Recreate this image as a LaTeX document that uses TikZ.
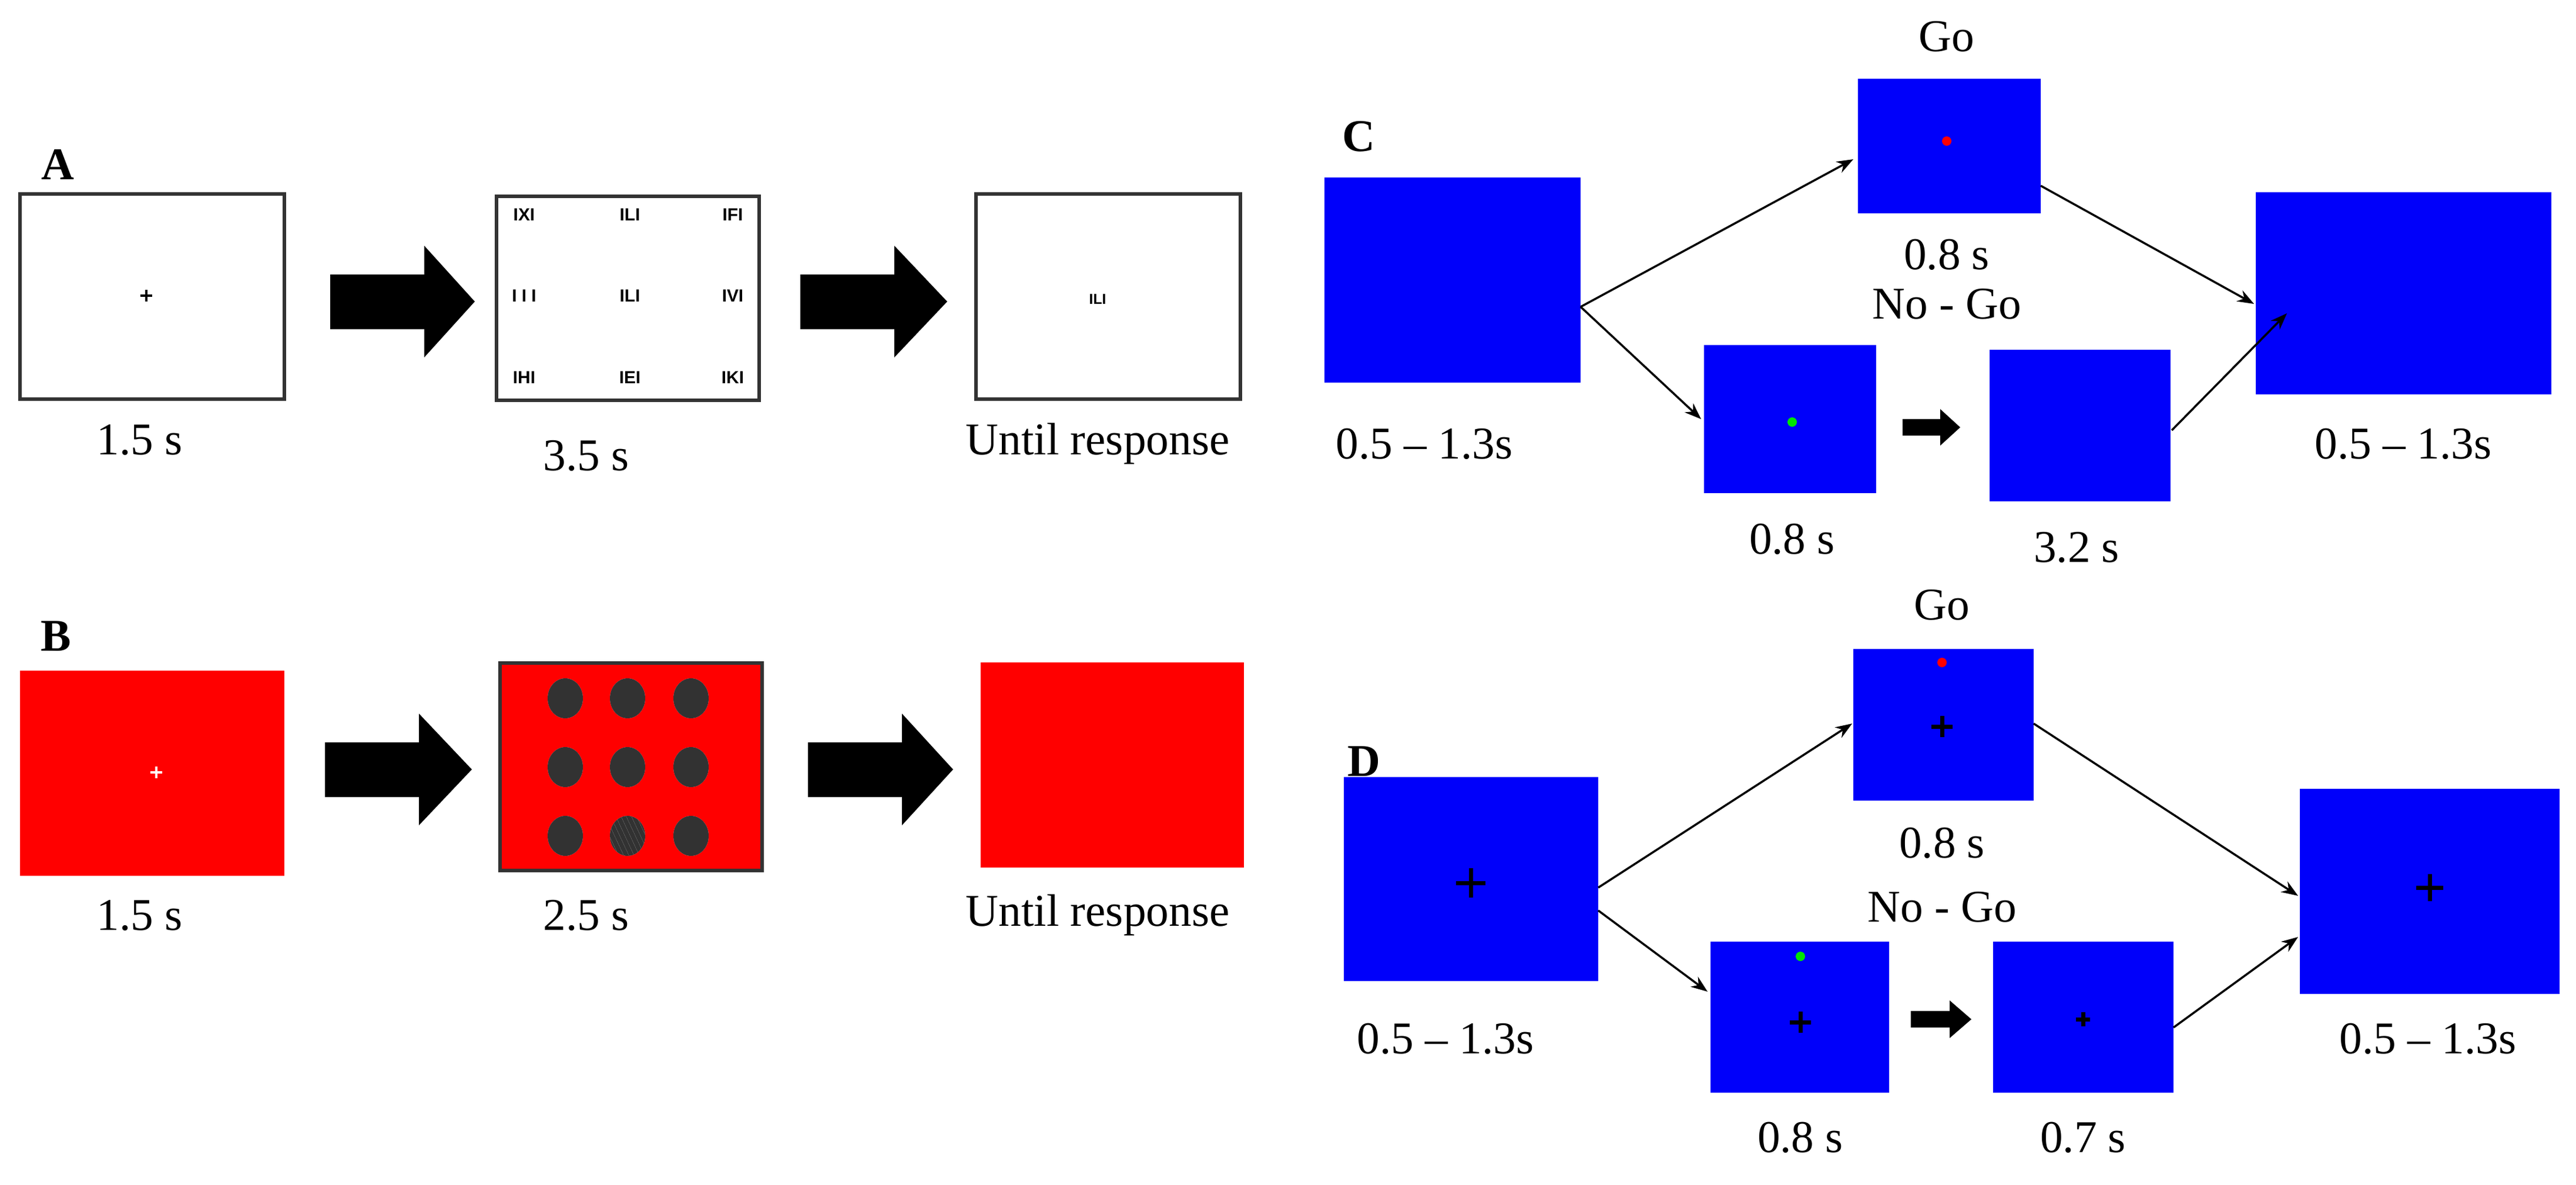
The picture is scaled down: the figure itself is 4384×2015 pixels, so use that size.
\documentclass[tikz,border=0pt]{standalone}
\usepackage{fontspec}
\setmainfont{Liberation Serif}
\newfontfamily\sansf{Liberation Sans}
\usetikzlibrary{arrows.meta}
\definecolor{scrblue}{RGB}{0,0,250}
\definecolor{scrred}{RGB}{255,0,0}
\definecolor{stripeD}{RGB}{50,50,50}
\definecolor{stripeL}{RGB}{200,200,200}
\begin{document}
\begin{tikzpicture}[x=0.1mm,y=-0.1mm,
  lbl/.style={font=\fontsize{22}{24}\selectfont},
  pan/.style={font=\bfseries\fontsize{22}{24}\selectfont},
  wbox/.style={draw=black!80,line width=1.6pt,fill=white},
  bbox/.style={fill=scrblue},
  rbox/.style={fill=scrred},
  letr/.style={font=\sansf\bfseries\fontsize{8.5}{9}\selectfont},
  conn/.style={-{Stealth[length=8pt,width=6pt]},line width=1pt},
  bigarrow/.style={fill=black},
  crs/.style={line width=2pt}]
\useasboundingbox (0,0) rectangle (4384,2015);
% ---------- A ----------
\node[pan] (lA) at (98,280) {A};
\draw[wbox] (34,330) rectangle (484,679);
\draw[line width=1.2pt] (239,503)--(259,503) (249,493)--(249,513);
\draw[wbox] (845,334) rectangle (1292,681);
\foreach \t/\x/\y in {IXI/892/365,ILI/1072/365,IFI/1247/365,{I I I}/892/503,ILI/1072/503,IVI/1247/503,IHI/892/642,IEI/1072/642,IKI/1247/642}
  \node[letr] at (\x,\y) {\t};
\draw[wbox] (1661,330) rectangle (2111,679);
\node[letr,font=\sansf\bfseries\fontsize{7}{8}\selectfont] at (1868,509) {ILI};
\node[lbl] (tA1) at (238,749) {1.5 s};
\node[lbl] (tA2) at (998,775) {3.5 s};
\node[lbl] (tA3) at (1868,755) {Until response};
\fill[bigarrow] (562,467)--(722,467)--(722,418)--(808,513)--(722,608)--(722,560)--(562,560)--cycle;
\fill[bigarrow] (1362,467)--(1522,467)--(1522,418)--(1612,513)--(1522,608)--(1522,560)--(1362,560)--cycle;
% ---------- B ----------
\node[pan] (lB) at (95,1082) {B};
\fill[rbox] (34,1141) rectangle (484,1490);
\draw[white,line width=1.2pt] (256,1314)--(276,1314) (266,1304)--(266,1324);
\draw[rbox,draw=black!80,line width=1.6pt] (851,1128) rectangle (1297,1481);
\foreach \x in {962,1068,1176}{\foreach \y in {1188,1305,1422}{
  \begin{scope}
  \clip (\x,\y) ellipse [x radius=30,y radius=34];
  \fill[stripeL] (\x-31,\y-35) rectangle (\x+31,\y+35);
  \ifnum\x=1068 \ifnum\y=1422
    \foreach \k in {-6,...,6}{\draw[stripeD,line width=2.2pt,rotate around={25:(\x,\y)}] (\x+\k*8,\y-50)--(\x+\k*8,\y+50);}
  \else
    \foreach \k in {-4,...,4}{\draw[stripeD,line width=2.2pt] (\x+\k*8,\y-40)--(\x+\k*8,\y+40);}
  \fi\else
    \foreach \k in {-4,...,4}{\draw[stripeD,line width=2.2pt] (\x+\k*8,\y-40)--(\x+\k*8,\y+40);}
  \fi
  \end{scope}}}
\fill[rbox] (1669,1127) rectangle (2117,1476);
\node[lbl] (tB1) at (238,1557) {1.5 s};
\node[lbl] (tB2) at (998,1557) {2.5 s};
\node[lbl] (tB3) at (1868,1557) {Until response};
\fill[bigarrow] (553,1263)--(713,1263)--(713,1214)--(803,1309)--(713,1404)--(713,1356)--(553,1356)--cycle;
\fill[bigarrow] (1375,1263)--(1535,1263)--(1535,1214)--(1622,1309)--(1535,1404)--(1535,1356)--(1375,1356)--cycle;
% ---------- C ----------
\node[pan] (lC) at (2312,232) {C};
\fill[bbox] (2254,302) rectangle (2690,651);
\coordinate (c1r) at (2690,522);
\fill[bbox] (3162,134) rectangle (3473,363);
\fill[scrred] (3313,240) circle (8);
\fill[bbox] (2900,587) rectangle (3193,839);
\fill[green!90!black] (3050,718) circle (8);
\fill[bbox] (3386,595) rectangle (3694,853);
\fill[bbox] (3839,327) rectangle (4342,671);
\coordinate (cgo) at (3154,271);
\coordinate (cng) at (2895,713);
\coordinate (cgor) at (3473,316);
\coordinate (cend1) at (3836,517);
\coordinate (cng2r) at (3696,732);
\coordinate (cend2) at (3892,533);
\draw[conn] (c1r)--(cgo);
\draw[conn] (c1r)--(cng);
\draw[conn] (cgor)--(cend1);
\draw[conn] (cng2r)--(cend2);
\fill[bigarrow] (3238,713)--(3302,713)--(3302,696)--(3336,727)--(3302,758)--(3302,741)--(3238,741)--cycle;
\node[lbl] (tGo) at (3313,62) {Go};
\node[lbl] (tC2) at (3313,433) {0.8 s};
\node[lbl] (tNG) at (3313,517) {No - Go};
\node[lbl] (tC3) at (3050,917) {0.8 s};
\node[lbl] (tC4) at (3534,931) {3.2 s};
\node[lbl] (tC1) at (2424,755) {0.5 – 1.3s};
\node[lbl] (tC5) at (4090,755) {0.5 – 1.3s};
% ---------- D ----------
\node[pan] (lD) at (2321,1295) {D};
\fill[bbox] (2287,1322) rectangle (2720,1669);
\draw[crs] (2478,1502)--(2528,1502) (2503,1477)--(2503,1527);
\fill[bbox] (3154,1104) rectangle (3461,1362);
\fill[scrred] (3305,1127) circle (8);
\draw[crs] (3287,1236)--(3323,1236) (3305,1218)--(3305,1254);
\fill[bbox] (2911,1602) rectangle (3215,1859);
\fill[green!90!black] (3064,1627) circle (8);
\draw[crs] (3046,1739)--(3082,1739) (3064,1721)--(3064,1757);
\fill[bbox] (3392,1602) rectangle (3699,1859);
\draw[crs] (3533,1734)--(3557,1734) (3545,1722)--(3545,1746);
\fill[bbox] (3914,1342) rectangle (4356,1691);
\draw[crs] (4112,1510)--(4158,1510) (4135,1487)--(4135,1533);
\coordinate (d1r) at (2720,1510);
\coordinate (d1r2) at (2720,1549);
\coordinate (dgo) at (3152,1231);
\coordinate (dng) at (2906,1687);
\coordinate (dgor) at (3461,1231);
\coordinate (dend1) at (3911,1524);
\coordinate (dng2r) at (3699,1748);
\coordinate (dend2) at (3911,1594);
\draw[conn] (d1r)--(dgo);
\draw[conn] (d1r2)--(dng);
\draw[conn] (dgor)--(dend1);
\draw[conn] (dng2r)--(dend2);
\fill[bigarrow] (3252,1720)--(3318,1720)--(3318,1702)--(3355,1734)--(3318,1766)--(3318,1748)--(3252,1748)--cycle;
\node[lbl] (tDGo) at (3305,1029) {Go};
\node[lbl] (tD2) at (3305,1434) {0.8 s};
\node[lbl] (tDNG) at (3305,1543) {No - Go};
\node[lbl] (tD3) at (3064,1935) {0.8 s};
\node[lbl] (tD4) at (3545,1935) {0.7 s};
\node[lbl] (tD1) at (2460,1767) {0.5 – 1.3s};
\node[lbl] (tD5) at (4132,1767) {0.5 – 1.3s};
\end{tikzpicture}
\end{document}
